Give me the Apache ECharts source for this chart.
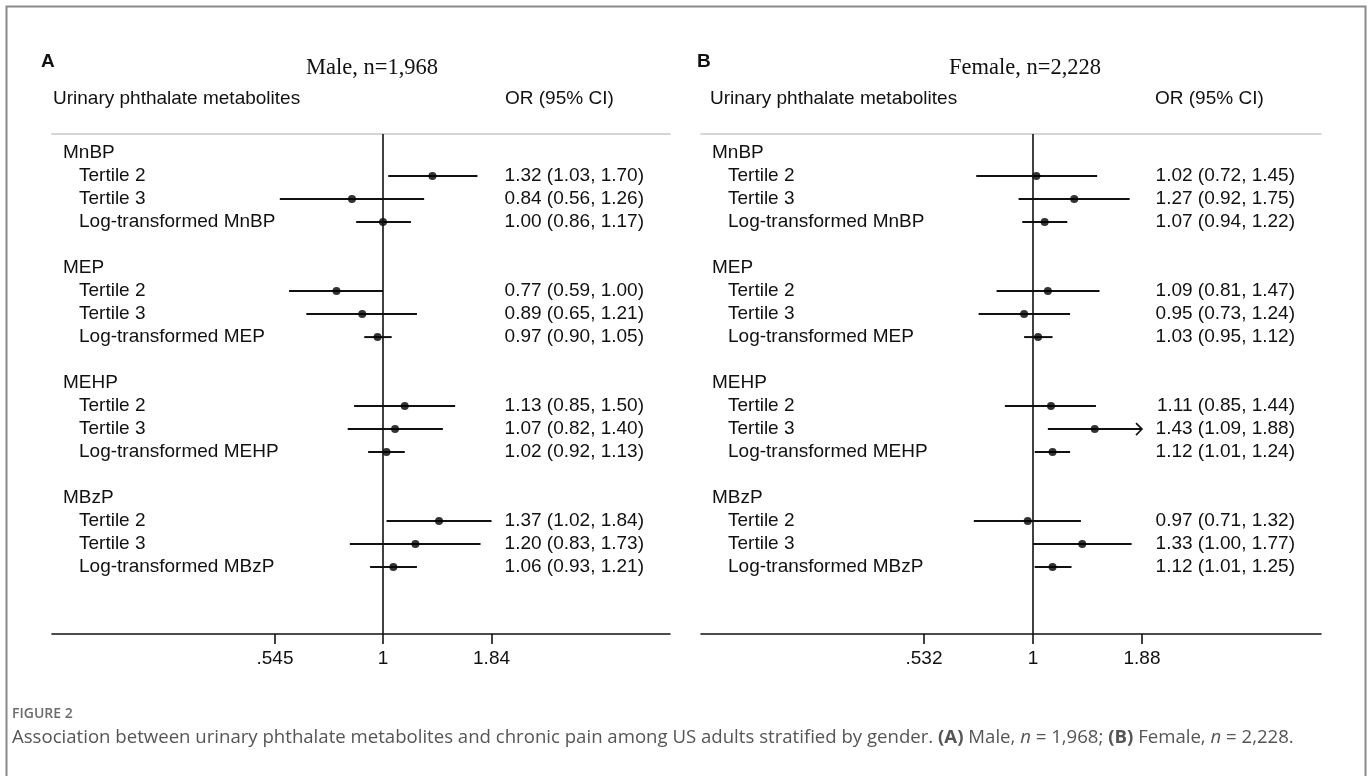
<!DOCTYPE html>
<html lang="en">
<head>
  <meta charset="UTF-8">
  <title>Forest plot</title>
  <script src="https://cdn.jsdelivr.net/npm/echarts@6/dist/echarts.min.js"></script>
  <style>
    html, body { margin: 0; padding: 0; background: #fff; }
  </style>
</head>
<body>
<div id="main" style="width: 1370px; height: 776px"></div>
<script>

  // data
  var groups = ['MnBP', 'MEP', 'MEHP', 'MBzP'];
  var items = ['Tertile 2', 'Tertile 3', 'Log-transformed'];

  var maleOR = [1.32, 0.84, 1.00, 0.77, 0.89, 0.97, 1.13, 1.07, 1.02, 1.37, 1.20, 1.06];
  var maleLo = [1.03, 0.56, 0.86, 0.59, 0.65, 0.90, 0.85, 0.82, 0.92, 1.02, 0.83, 0.93];
  var maleHi = [1.70, 1.26, 1.17, 1.00, 1.21, 1.05, 1.50, 1.40, 1.13, 1.84, 1.73, 1.21];
  var maleArrow = [0, 0, 0, 0, 0, 0, 0, 0, 0, 0, 0, 0];

  var femaleOR = [1.02, 1.27, 1.07, 1.09, 0.95, 1.03, 1.11, 1.43, 1.12, 0.97, 1.33, 1.12];
  var femaleLo = [0.72, 0.92, 0.94, 0.81, 0.73, 0.95, 0.85, 1.09, 1.01, 0.71, 1.00, 1.01];
  var femaleHi = [1.45, 1.75, 1.22, 1.47, 1.24, 1.12, 1.44, 1.88, 1.24, 1.32, 1.77, 1.25];
  // CI cut at the axis end (drawn with an arrow)
  var femaleArrow = [0, 0, 0, 0, 0, 0, 0, 1, 0, 0, 0, 0];

  var maleTicks = [0.545, 1, 1.84];
  var maleTickText = ['.545', '1', '1.84'];
  var femaleTicks = [0.532, 1, 1.88];
  var femaleTickText = ['.532', '1', '1.88'];

  var chartDom = document.getElementById('main');
  var myChart = echarts.init(chartDom);
  var option;

  var FONT = '"Liberation Sans", Arial, sans-serif';
  var FS = 19;
  var INK = '#111';

  // row index: group header at 5*g, items after it
  var rowLabel = {};
  var itemRows = [];
  var labelRows = [];
  groups.forEach(function (g, gi) {
    rowLabel[gi * 5] = '{g|' + g + '}';
    labelRows.push(gi * 5);
    items.forEach(function (it, ii) {
      var r = gi * 5 + ii + 1;
      rowLabel[r] = '{t|' + (ii === 2 ? it + ' ' + g : it) + '}';
      labelRows.push(r);
      itemRows.push(r);
    });
  });

  function fmt(or, lo, hi) {
    return or.toFixed(2) + ' (' + lo.toFixed(2) + ', ' + hi.toFixed(2) + ')';
  }

  function orText(ors, los, his) {
    var m = {};
    itemRows.forEach(function (r, i) { m[r] = fmt(ors[i], los[i], his[i]); });
    return m;
  }

  function ciData(los, his, arrows) {
    return itemRows.map(function (r, i) {
      return [r, Math.log(los[i]), Math.log(his[i]), arrows[i]];
    });
  }

  function ptData(ors) {
    return itemRows.map(function (r, i) { return [Math.log(ors[i]), r]; });
  }

  function ciRender(params, api) {
    var y = api.value(0);
    var a = api.coord([api.value(1), y]);
    var b = api.coord([api.value(2), y]);
    var kids = [{
      type: 'line',
      shape: { x1: a[0], y1: a[1], x2: b[0], y2: b[1] },
      style: { stroke: INK, lineWidth: 2 }
    }];
    if (api.value(3)) {
      kids.push({
        type: 'polyline',
        shape: { points: [[b[0] - 6, b[1] - 6], [b[0], b[1]], [b[0] - 6, b[1] + 6]] },
        style: { stroke: INK, lineWidth: 1.6, fill: null }
      });
    }
    return { type: 'group', children: kids };
  }

  function tickFormatter(ticks, texts) {
    return function (v) {
      for (var i = 0; i < ticks.length; i++) {
        if (Math.abs(Math.log(ticks[i]) - v) < 1e-6) return texts[i];
      }
      return '';
    };
  }

  var richLabel = {
    g: { fontFamily: FONT, fontSize: FS, color: INK },
    t: { fontFamily: FONT, fontSize: FS, color: INK, padding: [0, 0, 0, 16] }
  };

  var maleOrMap = orText(maleOR, maleLo, maleHi);
  var femaleOrMap = orText(femaleOR, femaleLo, femaleHi);

  var yMin = -0.83, yMax = 20.91;

  function xAxisFor(gi, lnMin, lnMax, ticks, texts) {
    var custom = ticks.map(function (t) { return Math.log(t); });
    return [{
      gridIndex: gi, type: 'value', min: lnMin, max: lnMax, position: 'bottom',
      splitLine: { show: false },
      axisLine: { show: true, onZero: false, lineStyle: { color: INK, width: 1.6 } },
      axisTick: { show: true, length: 10, customValues: custom, lineStyle: { color: INK, width: 1.6 } },
      axisLabel: {
        customValues: custom, margin: 15, fontFamily: FONT, fontSize: FS, color: INK,
        formatter: tickFormatter(ticks, texts)
      }
    }, {
      gridIndex: gi, type: 'value', min: lnMin, max: lnMax, position: 'top',
      splitLine: { show: false },
      axisLine: { show: true, onZero: false, lineStyle: { color: '#c8c8c8', width: 1.6 } },
      axisTick: { show: false }, axisLabel: { show: false }
    }];
  }

  function yAxesFor(gi, orMap) {
    return [{
      gridIndex: gi, type: 'value', inverse: true, min: yMin, max: yMax, position: 'left',
      splitLine: { show: false }, axisLine: { show: false }, axisTick: { show: false },
      axisLabel: {
        inside: true, margin: 11, align: 'left', customValues: labelRows,
        formatter: function (v) { return rowLabel[v] || ''; },
        rich: richLabel
      }
    }, {
      gridIndex: gi, type: 'value', inverse: true, min: yMin, max: yMax, position: 'right',
      splitLine: { show: false }, axisLine: { show: false }, axisTick: { show: false },
      axisLabel: {
        inside: true, margin: 26, align: 'right', customValues: itemRows,
        fontFamily: FONT, fontSize: FS, color: INK,
        formatter: function (v) { return orMap[v] || ''; }
      }
    }];
  }

  function panelSeries(xi, yi, los, his, ors, arrows) {
    return [{
      type: 'custom', xAxisIndex: xi, yAxisIndex: yi,
      renderItem: ciRender, encode: { x: [1, 2], y: 0 },
      data: ciData(los, his, arrows), silent: true,
      markLine: {
        silent: true, symbol: 'none', label: { show: false },
        lineStyle: { color: INK, width: 1.6, type: 'solid' },
        data: [{ xAxis: 0 }]
      }
    }, {
      type: 'scatter', xAxisIndex: xi, yAxisIndex: yi,
      symbol: 'circle', symbolSize: 8, itemStyle: { color: '#000' },
      data: ptData(ors), silent: true
    }];
  }

  var caption = 'Association between urinary phthalate metabolites and chronic pain among US adults stratified by gender. ' +
    '{b|(A)} Male, {i|n} = 1,968; {b|(B)} Female, {i|n} = 2,228.';
  var CAP = '"Open Sans", "Noto Sans", sans-serif';
  var CFS = 18.6;

  option = {
    animation: false,
    backgroundColor: '#fff',
    grid: [
      { left: 52, width: 618, top: 134, height: 500 },
      { left: 701, width: 620, top: 134, height: 500 }
    ],
    xAxis: [].concat(
      xAxisFor(0, -1.8596, 1.6124, maleTicks, maleTickText),
      xAxisFor(1, -1.922, 1.6676, femaleTicks, femaleTickText)
    ),
    yAxis: [].concat(yAxesFor(0, maleOrMap), yAxesFor(1, femaleOrMap)),
    series: [].concat(
      panelSeries(0, 0, maleLo, maleHi, maleOR, maleArrow),
      panelSeries(2, 2, femaleLo, femaleHi, femaleOR, femaleArrow)
    ),
    graphic: [
      { type: 'rect', shape: { x: 6.5, y: 6.5, width: 1359, height: 800 },
        style: { fill: null, stroke: '#8a8a8a', lineWidth: 2 }, silent: true },
      { type: 'text', x: 41, y: 62, style: { text: 'A', font: 'bold 19px ' + FONT, fill: INK, textVerticalAlign: 'middle' } },
      { type: 'text', x: 697, y: 62, style: { text: 'B', font: 'bold 19px ' + FONT, fill: INK, textVerticalAlign: 'middle' } },
      { type: 'text', x: 372, y: 68, style: { text: 'Male, n=1,968', font: '22.5px "Liberation Serif", serif', fill: INK, textAlign: 'center', textVerticalAlign: 'middle' } },
      { type: 'text', x: 1025, y: 68, style: { text: 'Female, n=2,228', font: '22.5px "Liberation Serif", serif', fill: INK, textAlign: 'center', textVerticalAlign: 'middle' } },
      { type: 'text', x: 53, y: 99, style: { text: 'Urinary phthalate metabolites', font: FS + 'px ' + FONT, fill: INK, textVerticalAlign: 'middle' } },
      { type: 'text', x: 505, y: 99, style: { text: 'OR (95% CI)', font: FS + 'px ' + FONT, fill: INK, textVerticalAlign: 'middle' } },
      { type: 'text', x: 710, y: 99, style: { text: 'Urinary phthalate metabolites', font: FS + 'px ' + FONT, fill: INK, textVerticalAlign: 'middle' } },
      { type: 'text', x: 1155, y: 99, style: { text: 'OR (95% CI)', font: FS + 'px ' + FONT, fill: INK, textVerticalAlign: 'middle' } },
      { type: 'text', x: 12, y: 714, style: { text: 'FIGURE 2', font: '600 14px ' + CAP, fill: '#6b6b6b', textVerticalAlign: 'middle' } },
      { type: 'text', x: 12, y: 738, style: {
          text: caption, font: CFS + 'px ' + CAP, fill: '#555', textVerticalAlign: 'middle',
          rich: {
            b: { fontFamily: CAP, fontSize: CFS, fontWeight: 'bold', fill: '#555' },
            i: { fontFamily: CAP, fontSize: CFS, fontStyle: 'italic', fill: '#555' }
          }
      } }
    ]
  };
  option && myChart.setOption(option);

</script>
</body>
</html>
